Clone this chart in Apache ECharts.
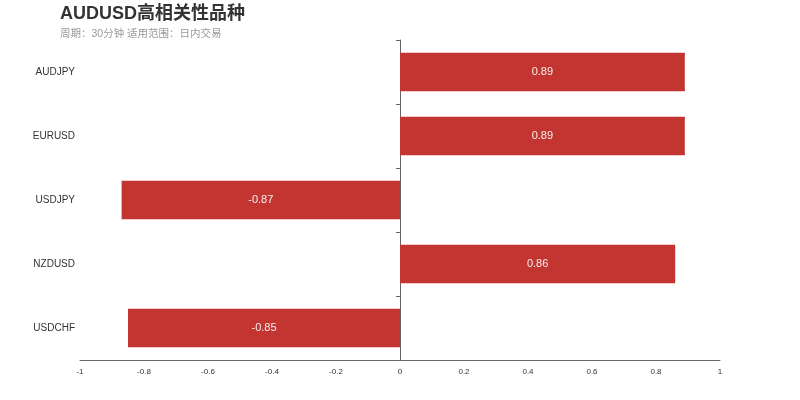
<!DOCTYPE html>
<html><head><meta charset="utf-8">
<script src="https://cdn.jsdelivr.net/npm/echarts@6/dist/echarts.min.js"></script>
<style>html,body{margin:0;padding:0;background:#fff}#c{width:800px;height:400px}</style>
</head><body><div id="c"></div>
<script>
const categories = ['AUDJPY','EURUSD','USDJPY','NZDUSD','USDCHF'];
const values = [0.89, 0.89, -0.87, 0.86, -0.85];
const xTicks = [-1,-0.8,-0.6,-0.4,-0.2,0,0.2,0.4,0.6,0.8,1];
const titleText = 'AUDUSD高相关性品种';
const subText = '周期：30分钟 适用范围：日内交易';

const chart = echarts.init(document.getElementById('c'));
chart.setOption({
  animation:false,
  textStyle:{fontFamily:'Liberation Sans, Arial, sans-serif'},
  title:{text:titleText, subtext:subText, left:55, top:0,
    textStyle:{fontSize:18,fontWeight:'bold',color:'#333',fontFamily:'Liberation Sans, Noto Sans CJK SC, sans-serif'},
    subtextStyle:{fontSize:10.5,color:'#999',fontFamily:'Liberation Sans, Noto Sans CJK SC, sans-serif'},
    itemGap:6},
  grid:{left:80,right:80,top:40,bottom:40,containLabel:false,outerBoundsMode:'none'},
  xAxis:{type:'value',min:-1,max:1,interval:0.2,
    axisLine:{show:true,lineStyle:{color:'#666'}},
    axisTick:{show:false},
    splitLine:{show:false},
    axisLabel:{fontSize:8,color:'#333',margin:8,
      formatter:v=>{const r=Math.round(v*10)/10; return xTicks.includes(r)?String(r):'';}}
  },
  yAxis:[{type:'category',data:categories,inverse:true,
    axisLine:{show:true,onZero:true,lineStyle:{color:'#666'}},
    axisTick:{show:true,length:4},
    splitLine:{show:false},
    axisLabel:{show:false}
  },{type:'category',data:categories,inverse:true,position:'left',
    axisLine:{show:false,onZero:false},
    axisTick:{show:false},
    splitLine:{show:false},
    axisLabel:{fontSize:10,color:'#333',margin:5}
  }],
  series:[{type:'bar',data:values,barWidth:'60%',
    itemStyle:{color:'#c23531'},
    label:{show:true,position:'inside',color:'#f5eeee',fontSize:11}
  }]
});
</script></body></html>
